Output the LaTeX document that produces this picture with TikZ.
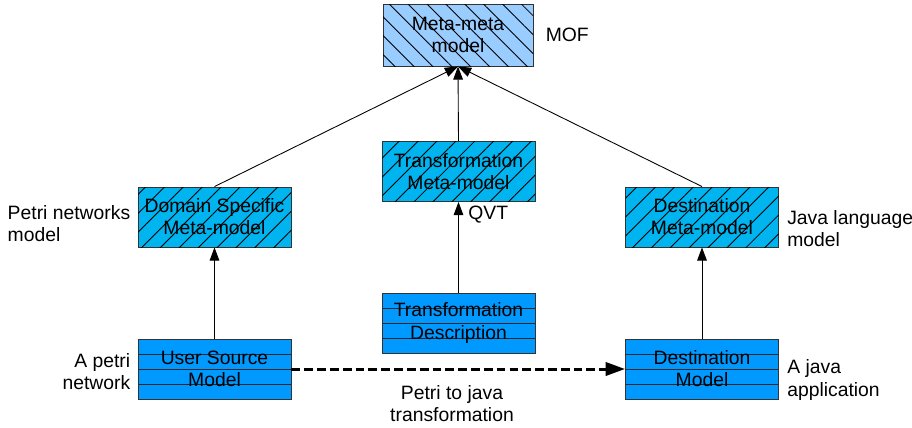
\documentclass[tikz,border=0pt]{standalone}
\usepackage{fontspec}
\setmainfont{Liberation Sans}
\definecolor{metablue}{RGB}{153, 204, 255}
\definecolor{modelcyan}{RGB}{0, 180, 240}
\definecolor{instblue}{RGB}{0, 153, 255}
\usetikzlibrary{arrows.meta, positioning, calc, patterns.meta}

\begin{document}
\begin{tikzpicture}[
  font=\fontsize{11}{12.6}\selectfont,
  box/.style={draw=black!80, line width=0.5pt, minimum width=3.06cm, minimum height=1.2cm, align=center, inner sep=0pt},
  metabox/.style={box, fill=metablue, postaction={pattern={Lines[angle=-45, distance=7.6pt, line width=0.5pt]}}},
  modelbox/.style={box, fill=modelcyan, postaction={pattern={Lines[angle=45, distance=7.6pt, line width=0.5pt]}}},
  instbox/.style={box, fill=instblue, path picture={
    \foreach \k in {1,2,3}
      \draw[black!85, line width=0.5pt]
        ($(path picture bounding box.south west)!\k/4!(path picture bounding box.north west)$) --
        ($(path picture bounding box.south east)!\k/4!(path picture bounding box.north east)$);}},
  note/.style={align=left, inner sep=0pt},
  conforms/.style={-{Triangle[length=7.5pt, width=5.5pt]}, line width=0.5pt},
  transfo/.style={-{Triangle[length=11pt, width=7.5pt]}, line width=1.7pt, dash pattern=on 5pt off 2.3pt}
]
  \useasboundingbox (0,0) rectangle (18.24,-8.54);

  \node[metabox, minimum width=3cm, minimum height=1.24cm] (mm) at (9.16,-0.70) {Meta-meta\\model};
  \node[modelbox] (dsmm) at (4.29,-4.34) {Domain Specific\\Meta-model};
  \node[modelbox] (trmm) at (9.17,-3.43) {Transformation\\Meta-model};
  \node[modelbox] (destmm) at (14.04,-4.34) {Destination\\Meta-model};
  \node[instbox] (trdesc) at (9.17,-6.46) {Transformation\\Description};
  \node[instbox] (usm) at (4.29,-7.38) {User Source\\Model};
  \node[instbox] (destm) at (14.04,-7.38) {Destination\\Model};

  \node[note, right=0.24cm of mm] (mof) {MOF};
  \node[note, left=0.14cm of dsmm, yshift=-0.14cm] (petrimodel) {Petri networks\\model};
  \node[note, right=0.16cm of destmm, yshift=-0.24cm] (javamodel) {Java language\\model};
  \node[note, below right=0.08cm and 0.19cm of trmm.south] (qvt) {QVT};
  \node[note, align=right, left=0.14cm of usm, yshift=-0.06cm] (petrinet) {A petri\\network};
  \node[note, right=0.16cm of destm, yshift=-0.22cm] (javaapp) {A java\\application};
  \node[note, align=center] (trlabel) at (9.04,-8.08) {Petri to java\\transformation};

  \draw[conforms] (dsmm.north) -- (mm.south);
  \draw[conforms] (trmm.north) -- (mm.south);
  \draw[conforms] (destmm.north) -- (mm.south);
  \draw[conforms] (usm.north) -- (dsmm.south);
  \draw[conforms] (trdesc.north) -- (trmm.south);
  \draw[conforms] (destm.north) -- (destmm.south);
  \draw[transfo] (usm.east) -- (destm.west);
\end{tikzpicture}
\end{document}
